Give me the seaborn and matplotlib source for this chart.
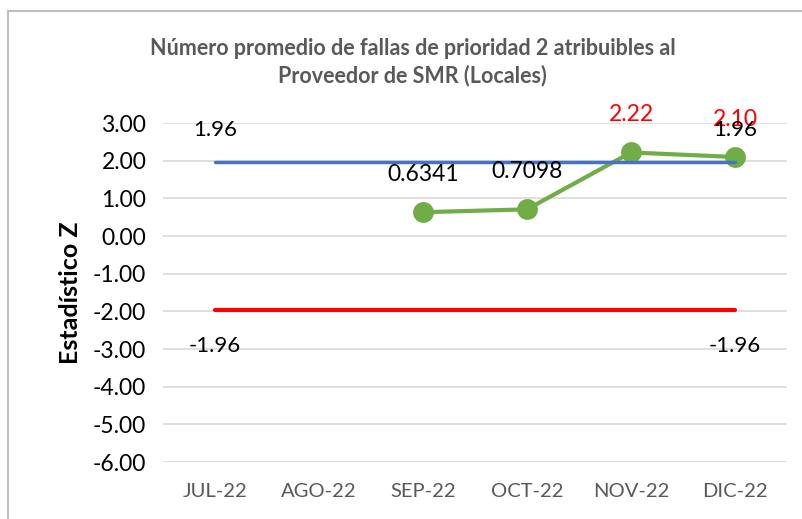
import numpy as np
import pandas as pd
import matplotlib
matplotlib.use('Agg')
import matplotlib.pyplot as plt
from matplotlib.lines import Line2D
import seaborn as sns

# data
months = ['JUL-22', 'AGO-22', 'SEP-22', 'OCT-22', 'NOV-22', 'DIC-22']
z_values = [np.nan, np.nan, 0.6341, 0.7098, 2.22, 2.10]
z_labels = ['', '', '0.6341', '0.7098', '2.22', '2.10']
label_colors = ['black', 'black', 'black', 'black', 'red', 'red']
upper_limit = [1.96] * len(months)
lower_limit = [-1.96] * len(months)
yticks = [3, 2, 1, 0, -1, -2, -3, -4, -5, -6]

sns.set_theme(style='white')
plt.rcParams['font.family'] = ['Lato', 'DejaVu Sans']

df = pd.DataFrame({
    'pos': np.arange(len(months)),
    'month': months,
    'z': z_values,
    'upper': upper_limit,
    'lower': lower_limit,
})

fig = plt.figure(figsize=(8.03, 5.19), dpi=100)
ax = fig.add_axes([0.203, 0.1098, 0.777, 0.653])

# chart frame (grey box, cut by the picture on right/bottom)
fig.add_artist(Line2D([0.0105, 0.0105], [0, 0.979], transform=fig.transFigure,
                      color='#BFBFBF', lw=1.5))
fig.add_artist(Line2D([0.0105, 1.0], [0.979, 0.979], transform=fig.transFigure,
                      color='#BFBFBF', lw=1.5))

sns.lineplot(data=df, x='pos', y='z', ax=ax, color='#70AD47', lw=3,
             marker='o', markersize=15, markeredgewidth=0, zorder=2)
sns.lineplot(data=df, x='pos', y='upper', ax=ax, color='#4472C4', lw=2.5, zorder=3)
sns.lineplot(data=df, x='pos', y='lower', ax=ax, color='#FF0000', lw=3, zorder=3)

# data labels
for i, (v, t, c) in enumerate(zip(z_values, z_labels, label_colors)):
    if t:
        ax.annotate(t, (i, v), xytext=(0, 27), textcoords='offset points',
                    ha='center', va='center', fontsize=16.5, color=c, zorder=5)

last = len(months) - 1
for i in [0, last]:
    ax.annotate(f'{upper_limit[i]:.2f}', (i, upper_limit[i]), xytext=(0, 23),
                textcoords='offset points', ha='center', va='center', fontsize=16,
                color='black', zorder=6)
    ax.annotate(f'{lower_limit[i]:.2f}', (i, lower_limit[i]), xytext=(0, -26),
                textcoords='offset points', ha='center', va='center', fontsize=16,
                color='black', zorder=6)

ax.set_xlim(-0.5, len(months) - 0.5)
ax.set_ylim(-6, 3)
ax.set_yticks(yticks)
ax.set_yticklabels([f'{t:.2f}' for t in yticks], fontsize=16.5, color='black')
ax.set_xticks(range(len(months)))
ax.set_xticklabels(months, fontsize=14.5, color='#595959')
ax.tick_params(axis='both', length=0, pad=12)
ax.tick_params(axis='x', pad=15)
ax.yaxis.grid(True, color='#D9D9D9', lw=1.2)
ax.set_axisbelow(True)
for s in ax.spines.values():
    s.set_visible(False)

ax.set_xlabel('')
ax.set_ylabel('Estadístico Z', fontsize=18, fontweight='bold', color='black', labelpad=8)

fig.text(0.514, 0.88, 'Número promedio de fallas de prioridad 2 atribuibles al\nProveedor de SMR (Locales)',
         ha='center', va='center', fontsize=15.5, fontweight='bold', color='#595959',
         linespacing=1.3)

fig.savefig('out.png', dpi=100)
